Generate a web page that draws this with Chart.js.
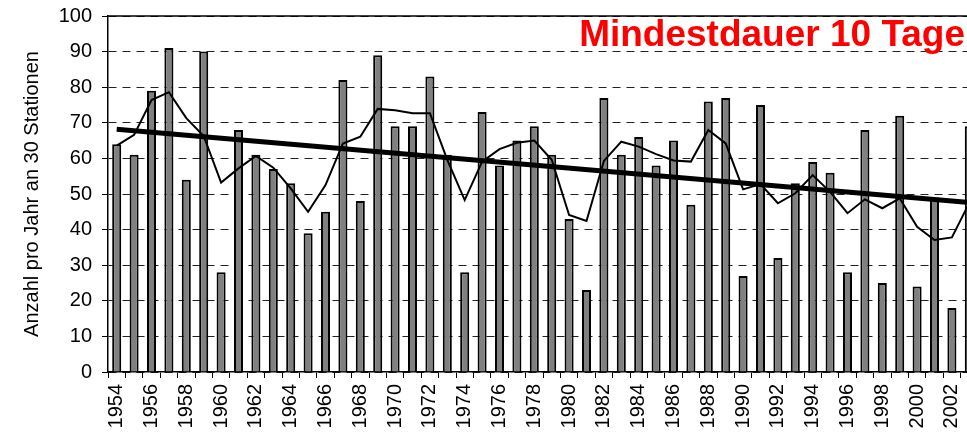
<!DOCTYPE html>
<html>
<head>
<meta charset="utf-8">
<script src="https://cdn.jsdelivr.net/npm/chart.js@4"></script>
<style>
  html, body { margin: 0; padding: 0; background: #fff; overflow: hidden; }
  #wrap { width: 980px; height: 440px; }
</style>
</head>
<body>
<div id="wrap"><canvas id="heatChart" width="980" height="440"></canvas></div>
<script>
// Jahre 1954 - 2003
const years = [];
for (let y = 1954; y <= 2003; y++) years.push(String(y));

// Anzahl Tage pro Jahr (Balken)
const counts = [
    64, 61, 79, 91, 54, 90, 28, 68, 61, 57,
    53, 39, 45, 82, 48, 89, 69, 69, 83, 61,
    28, 73, 58, 65, 69, 61, 43, 23, 77, 61,
    66, 58, 65, 47, 76, 77, 27, 75, 32, 53,
    59, 56, 28, 68, 25, 72, 24, 49, 18, 69
];

// gleitendes Mittel (duenne Linie)
const smoothed = [
    63.6, 66.6, 76.4, 78.6, 71.3, 66.3, 53.2, 57.2, 60.7, 57.4,
    51.6, 45.0, 52.5, 64.2, 66.1, 73.9, 73.5, 72.7, 72.7, 59.6,
    48.3, 59.1, 62.6, 64.4, 65.0, 59.6, 44.1, 42.4, 59.3, 64.7,
    63.3, 61.2, 59.4, 59.1, 68.0, 64.2, 51.3, 52.8, 47.4, 50.2,
    55.3, 50.6, 44.6, 48.5, 46.0, 48.8, 40.8, 37.1, 37.8, 47.5
];

const trend = years.map(() => null);
trend[0] = 68.2;
trend[years.length - 1] = 47.6;

const yTicks = [0, 10, 20, 30, 40, 50, 60, 70, 80, 90, 100];

const FONT = "'Liberation Sans', Arial, sans-serif";

// roter Schriftzug und durchgezogene obere Linie
const overlayPlugin = {
    id: 'overlay',
    afterDraw(chart) {
        const ctx = chart.ctx;
        const area = chart.chartArea;
        ctx.save();
        ctx.strokeStyle = '#000';
        ctx.lineWidth = 1.5;
        ctx.beginPath();
        ctx.moveTo(area.left, area.top);
        ctx.lineTo(area.right, area.top);
        ctx.stroke();

        ctx.fillStyle = '#ff0000';
        ctx.font = "bold 37px " + FONT;
        ctx.textAlign = 'right';
        ctx.textBaseline = 'alphabetic';
        ctx.fillText('Mindestdauer 10 Tage', 965, 46);
        ctx.restore();
    }
};

const ctx = document.getElementById('heatChart').getContext('2d');
new Chart(ctx, {
    type: 'bar',
    data: {
        labels: years,
        datasets: [{
            type: 'line',
            label: 'Trend',
            data: trend,
            borderColor: '#000',
            borderWidth: 5,
            pointRadius: 0,
            spanGaps: true,
            tension: 0,
            order: 1
        }, {
            type: 'line',
            label: 'Mittel',
            data: smoothed,
            borderColor: '#000',
            borderWidth: 2,
            pointRadius: 0,
            tension: 0,
            order: 2
        }, {
            label: 'Anzahl',
            data: counts,
            backgroundColor: '#808080',
            borderColor: '#000',
            borderWidth: 2,
            barPercentage: 0.52,
            categoryPercentage: 1,
            order: 3
        }]
    },
    options: {
        responsive: false,
        animation: false,
        layout: {
            padding: { top: 16, right: 2, left: 0, bottom: 0 }
        },
        plugins: {
            legend: { display: false },
            tooltip: { enabled: false }
        },
        scales: {
            x: {
                offset: true,
                grid: {
                    offset: true,
                    drawOnChartArea: false,
                    drawTicks: true,
                    tickLength: 6,
                    color: '#000'
                },
                border: { display: true, color: '#000', width: 1.5 },
                ticks: {
                    autoSkip: false,
                    maxRotation: 90,
                    minRotation: 90,
                    padding: 6,
                    color: '#000',
                    font: { family: FONT, size: 20 },
                    callback: function (value, index) {
                        return index % 2 === 0 ? years[index] : '';
                    }
                },
                afterFit: function (scale) {
                    scale.height = 68;
                    scale.paddingLeft = 0;
                    scale.paddingRight = 0;
                }
            },
            y: {
                min: 0,
                max: 100,
                afterBuildTicks: function (scale) {
                    scale.ticks = yTicks.map(v => ({ value: v }));
                },
                grid: {
                    color: '#222',
                    lineWidth: 1,
                    drawTicks: true,
                    tickLength: 6,
                    tickColor: '#000',
                    tickBorderDash: []
                },
                border: { display: true, color: '#000', width: 1.5, dash: [8, 6] },
                ticks: {
                    padding: 10,
                    color: '#000',
                    font: { family: FONT, size: 20 }
                },
                title: {
                    display: true,
                    text: 'Anzahl pro Jahr an 30 Stationen',
                    color: '#000',
                    font: { family: FONT, size: 20 },
                    padding: { top: 20, bottom: 0 }
                },
                afterFit: function (scale) {
                    scale.width = 108;
                    scale.paddingTop = 0;
                    scale.paddingBottom = 0;
                }
            }
        }
    },
    plugins: [overlayPlugin]
});
</script>
</body>
</html>
